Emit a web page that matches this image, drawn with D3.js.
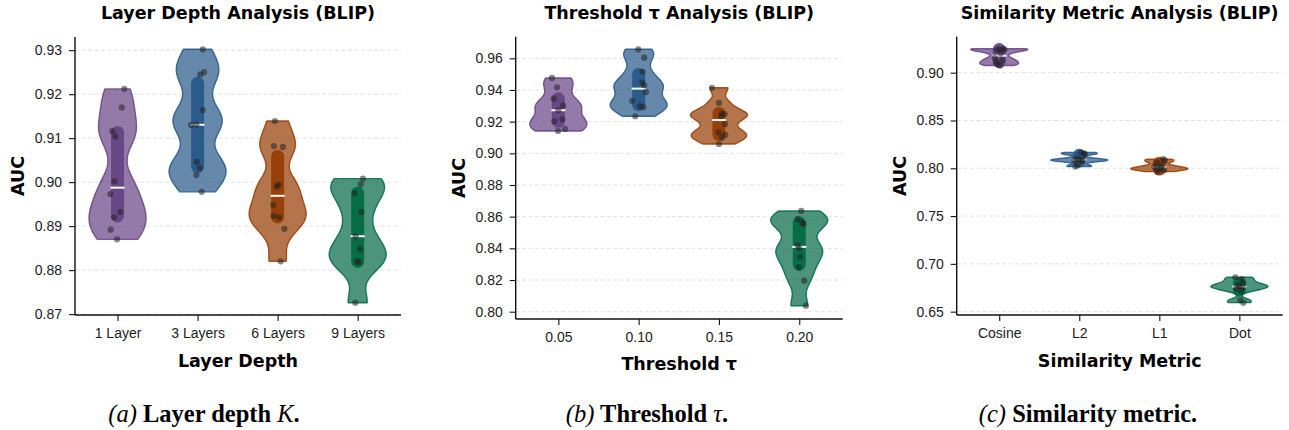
<!DOCTYPE html>
<html>
  <head>
    <title>BLIP ablations - violin plots</title>
    <script src="https://unpkg.com/d3@7/dist/d3.min.js"></script>
    <style>
      body { margin: 0; background: #fff; }
    </style>
  </head>
  <body>
    <svg width="1289" height="430"></svg>
    <script>

      // ---- data ----
      const layerCats = ["1 Layer", "3 Layers", "6 Layers", "9 Layers"];
      const layerAuc = [
        [0.9212, 0.9170, 0.9116, 0.9104, 0.9002, 0.8973, 0.8932, 0.8920, 0.8892, 0.8870],
        [0.9302, 0.9250, 0.9245, 0.9164, 0.9131, 0.9130, 0.9046, 0.9032, 0.9016, 0.8978],
        [0.9139, 0.9082, 0.9080, 0.8994, 0.8990, 0.8948, 0.8923, 0.8920, 0.8894, 0.8820],
        [0.9008, 0.8995, 0.8975, 0.8932, 0.8877, 0.8848, 0.8820, 0.8818, 0.8726]
      ];
      const layerJitter = [
        [0.085, 0.053, -0.065, -0.028, -0.04, -0.09, 0.035, -0.044, -0.085, -0.006],
        [0.065, 0.081, 0.035, 0.065, -0.015, -0.081, -0.01, 0.028, -0.015, 0.052],
        [-0.034, -0.046, 0.066, 0.013, -0.013, -0.054, -0.05, 0.021, 0.084, 0.038],
        [0.066, 0.038, -0.038, 0.046, -0.025, 0.029, -0.009, 0.016, -0.029]
      ];
      const layerTicks = [0.87, 0.88, 0.89, 0.90, 0.91, 0.92, 0.93];

      const tauCats = ["0.05", "0.10", "0.15", "0.20"];
      const tauAuc = [
        [0.9476, 0.9417, 0.9345, 0.9301, 0.9272, 0.9215, 0.9202, 0.9154, 0.9141],
        [0.9657, 0.9604, 0.9515, 0.9448, 0.9430, 0.9387, 0.9332, 0.9299, 0.9291, 0.9234],
        [0.9414, 0.9318, 0.9253, 0.9248, 0.9235, 0.9185, 0.9133, 0.9116, 0.9100, 0.9059],
        [0.8636, 0.8585, 0.8562, 0.8554, 0.8419, 0.8400, 0.8347, 0.8282, 0.8196, 0.8038]
      ];
      const tauJitter = [
        [-0.079, -0.016, -0.058, 0.059, 0, 0.05, -0.05, 0.084, -0.004],
        [-0.005, 0.07, 0.05, 0.045, 0.07, 0.091, -0.08, 0.016, 0.058, -0.043],
        [-0.087, 0, 0.034, 0.071, 0.025, 0.079, -0.004, 0.079, 0.037, 0],
        [0.025, -0.02, 0.035, 0.054, -0.02, 0, 0.01, -0.005, 0.062, 0.083]
      ];
      const tauTicks = [0.80, 0.82, 0.84, 0.86, 0.88, 0.90, 0.92, 0.94, 0.96];

      const metricCats = ["Cosine", "L2", "L1", "Dot"];
      const metricAuc = [
        [0.9250, 0.9247, 0.9243, 0.9238, 0.9200, 0.9156, 0.9130, 0.9110, 0.9090, 0.9075],
        [0.8165, 0.8155, 0.8148, 0.8100, 0.8092, 0.8085, 0.8080, 0.8075, 0.8030, 0.8018],
        [0.8095, 0.8080, 0.8060, 0.8030, 0.8015, 0.8005, 0.7995, 0.7990, 0.7980, 0.7965],
        [0.6860, 0.6840, 0.6800, 0.6780, 0.6768, 0.6756, 0.6745, 0.6720, 0.6620, 0.6594]
      ];
      const metricJitter = [
        [0, 0.05, 0.065, -0.03, 0.02, -0.055, 0.04, -0.04, -0.02, 0.01],
        [0.02, 0.06, 0.07, -0.03, 0, 0.04, -0.06, 0.03, -0.02, -0.05],
        [0.05, 0.07, -0.03, 0.02, -0.06, 0.03, -0.04, 0, 0.06, -0.02],
        [-0.05, 0.03, 0.05, -0.02, 0, 0.04, -0.04, 0.02, 0.01, 0.05]
      ];
      const metricTicks = [0.65, 0.70, 0.75, 0.80, 0.85, 0.90];

      const palette = ["#654183", "#245687", "#953b00", "#006844"];

      // ---- panel layout (pixels) ----
      const panels = [
        { cats: layerCats, auc: layerAuc, jitter: layerJitter, ticks: layerTicks,
          left: 75, right: 401, top: 37, bottom: 315, ydom: [0.8698, 0.933],
          title: "Layer Depth Analysis (BLIP)", xlabel: "Layer Depth", xlabelY: 367, yl: 24,
          caption: ["(a)", " Layer depth ", "K", "."], capX: 204 },
        { cats: tauCats, auc: tauAuc, jitter: tauJitter, ticks: tauTicks,
          left: 515.7, right: 842.7, top: 36.7, bottom: 319, ydom: [0.79539, 0.97364],
          title: "Threshold \u03c4 Analysis (BLIP)", xlabel: "Threshold \u03c4", xlabelY: 370, yl: 465,
          caption: ["(b)", " Threshold ", "\u03c4", "."], capX: 647 },
        { cats: metricCats, auc: metricAuc, jitter: metricJitter, ticks: metricTicks,
          left: 956.7, right: 1282.7, top: 36.7, bottom: 315, ydom: [0.6465, 0.93766],
          title: "Similarity Metric Analysis (BLIP)", xlabel: "Similarity Metric", xlabelY: 367, yl: 906,
          caption: ["(c)", " Similarity metric", "", "."], capX: 1088 }
      ];

      const svg = d3.select("svg");
      const tickFont = "'Liberation Sans', Arial, sans-serif";
      const boldFont = "'DejaVu Sans', sans-serif";

      const halfWidth = 28.5;   // max violin half width in px
      const bwAdjust = 0.5;

      const gaussian = u => Math.exp(-0.5 * u * u) / Math.sqrt(2 * Math.PI);

      const violinShape = vals => {
        const n = vals.length;
        const bw = Math.pow(n, -0.2) * d3.deviation(vals) * bwAdjust;
        const lo = d3.min(vals), hi = d3.max(vals);
        const grid = d3.range(0, 101).map(i => lo + (hi - lo) * i / 100);
        return grid.map(v => [v, d3.mean(vals, d => gaussian((v - d) / bw)) / bw]);
      };

      const drawPanel = p => {
        const g = svg.append("g");

        const x = d3.scalePoint()
          .domain(p.cats)
          .range([p.left + 2.5, p.right - 3.3])
          .padding(0.5);
        const step = x.step();

        const y = d3.scaleLinear()
          .domain(p.ydom)
          .range([p.bottom, p.top]);

        // grid
        g.selectAll("line.grid")
          .data(p.ticks)
          .enter().append("line")
            .attr("x1", p.left).attr("x2", p.right)
            .attr("y1", d => y(d)).attr("y2", d => y(d))
            .attr("stroke", "#d9d9d9")
            .attr("stroke-width", 0.8)
            .attr("stroke-dasharray", "4,2.5");

        // violins
        p.cats.forEach((c, i) => {
          const vals = p.auc[i];
          const dens = violinShape(vals);
          const maxD = d3.max(dens, d => d[1]);
          const cx = x(c);
          const area = d3.area()
            .curve(d3.curveLinear)
            .y(d => y(d[0]))
            .x0(d => cx - halfWidth * d[1] / maxD)
            .x1(d => cx + halfWidth * d[1] / maxD);

          g.append("path")
            .datum(dens)
            .attr("d", area)
            .attr("fill", palette[i])
            .attr("fill-opacity", 0.7)
            .attr("stroke", palette[i])
            .attr("stroke-opacity", 0.85)
            .attr("stroke-width", 1.4)
            .attr("stroke-linejoin", "round");

          const sorted = vals.slice().sort(d3.ascending);
          const q1 = d3.quantile(sorted, 0.25);
          const q3 = d3.quantile(sorted, 0.75);
          const med = d3.quantile(sorted, 0.5);

          g.append("line")
            .attr("x1", cx).attr("x2", cx)
            .attr("y1", y(q3)).attr("y2", y(q1))
            .attr("stroke", palette[i])
            .attr("stroke-opacity", 0.9)
            .attr("stroke-width", 13)
            .attr("stroke-linecap", "round");

          g.append("line")
            .attr("x1", cx - 7).attr("x2", cx + 7)
            .attr("y1", y(med)).attr("y2", y(med))
            .attr("stroke", "#fff")
            .attr("stroke-width", 2);

          g.selectAll("circle.pt" + i)
            .data(vals)
            .enter().append("circle")
              .attr("cx", (d, j) => cx + p.jitter[i][j] * step)
              .attr("cy", d => y(d))
              .attr("r", 3.1)
              .attr("fill", "#222")
              .attr("fill-opacity", 0.55);
        });

        // axes
        const yAxis = d3.axisLeft(y)
          .tickValues(p.ticks)
          .tickFormat(d3.format(".2f"))
          .tickSize(6)
          .tickPadding(7)
          .tickSizeOuter(0);
        const ya = g.append("g").attr("transform", `translate(${p.left},0)`).call(yAxis);
        ya.select(".domain").remove();

        const xAxis = d3.axisBottom(x).tickSize(6).tickPadding(7).tickSizeOuter(0);
        const xa = g.append("g").attr("transform", `translate(0,${p.bottom})`).call(xAxis);
        xa.select(".domain").remove();

        [ya, xa].forEach(a => {
          a.selectAll("text").attr("font-family", tickFont).attr("font-size", 14).attr("fill", "#222");
          a.selectAll("line").attr("stroke", "#111").attr("stroke-width", 1.1);
        });

        // spines
        g.append("line")
          .attr("x1", p.left).attr("x2", p.left)
          .attr("y1", p.top).attr("y2", p.bottom)
          .attr("stroke", "#111").attr("stroke-width", 1.4);
        g.append("line")
          .attr("x1", p.left).attr("x2", p.right)
          .attr("y1", p.bottom).attr("y2", p.bottom)
          .attr("stroke", "#111").attr("stroke-width", 1.4);

        const mid = (p.left + p.right) / 2;

        g.append("text")
          .attr("x", mid).attr("y", 18.5)
          .attr("text-anchor", "middle")
          .attr("font-family", boldFont).attr("font-weight", "bold").attr("font-size", 17.5)
          .text(p.title);

        g.append("text")
          .attr("x", mid).attr("y", p.xlabelY)
          .attr("text-anchor", "middle")
          .attr("font-family", boldFont).attr("font-weight", "bold").attr("font-size", 17.5)
          .text(p.xlabel);

        g.append("text")
          .attr("transform", `translate(${p.yl},${(p.top + p.bottom) / 2}) rotate(-90)`)
          .attr("text-anchor", "middle")
          .attr("font-family", boldFont).attr("font-weight", "bold").attr("font-size", 17.5)
          .text("AUC");

        // caption
        const cap = g.append("text")
          .attr("x", p.capX).attr("y", 421.5)
          .attr("text-anchor", "middle")
          .attr("font-family", "'Liberation Serif', 'Times New Roman', serif")
          .attr("font-size", 24.5);
        cap.append("tspan").attr("font-style", "italic").text(p.caption[0]);
        cap.append("tspan").attr("font-weight", "bold").text(p.caption[1]);
        if (p.caption[2]) cap.append("tspan").attr("font-style", "italic").text(p.caption[2]);
        cap.append("tspan").attr("font-weight", "bold").text(p.caption[3]);
      };

      panels.forEach(drawPanel);

    </script>
  </body>
</html>
